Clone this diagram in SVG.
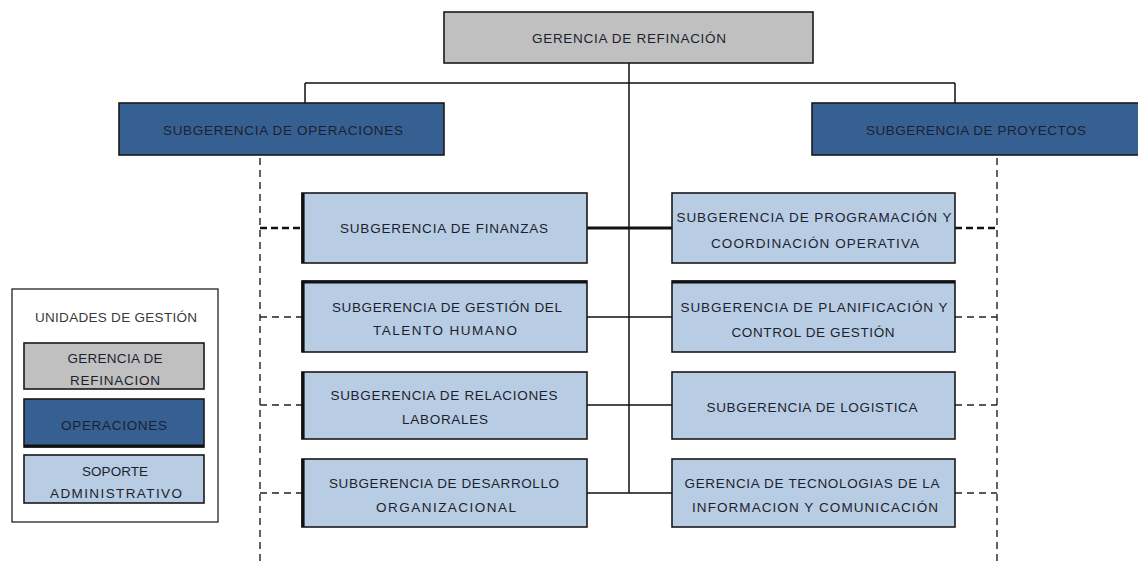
<svg xmlns="http://www.w3.org/2000/svg" width="1138" height="564" viewBox="0 0 1138 564">
<style>
text{font-family:"Liberation Sans",Arial,sans-serif;font-size:13.5px;fill:#1c1f2e;text-anchor:middle;dominant-baseline:central}
.box{stroke:#1a1a1a;stroke-width:1.6}
.gray{fill:#c0c0c0}
.dark{fill:#376092}
.light{fill:#b8cce4}
.ln{stroke:#111;stroke-width:1.5;fill:none}
.thick{stroke:#111;stroke-width:3;fill:none}
.dash{stroke:#222;stroke-width:1.4;stroke-dasharray:7,5;fill:none}
.dashb{stroke:#111;stroke-width:2.6;stroke-dasharray:7,4;fill:none}
.edge{stroke:#111;stroke-width:3.2}
</style>
<rect width="1138" height="564" fill="#fff"/>
<g id="connectors">
<path class="ln" d="M629 63V493M305 83H955M305 83V103M955 83V103"/>
<path class="thick" d="M587 228H672"/>
<path class="ln" d="M587 317H672M587 405H672M587 493H672"/>
<path class="dash" d="M260 158V564M997 158V564"/>
<path class="dashb" d="M260 228H302M955 228H997"/>
<path class="dash" d="M260 317H302M260 405H302M260 493H302M955 317H997M955 405H997M955 493H997"/>
</g>
<g id="gerencia">
<rect class="box gray" x="444" y="12" width="369" height="51"/>
<text x="629" y="38" textLength="194" lengthAdjust="spacing">GERENCIA DE REFINACIÓN</text>
</g>
<g id="operaciones">
<rect class="box dark" x="119" y="103" width="325" height="52"/>
<text x="283" y="130" textLength="240" lengthAdjust="spacing">SUBGERENCIA DE OPERACIONES</text>
</g>
<g id="proyectos">
<rect class="box dark" x="812" y="103" width="335" height="52"/>
<text x="976" y="130" textLength="220" lengthAdjust="spacing">SUBGERENCIA DE PROYECTOS</text>
</g>
<g id="finanzas">
<rect class="box light" x="302" y="193" width="285" height="70"/>
<line class="edge" x1="303" y1="193" x2="303" y2="263"/>
<text x="444" y="228" textLength="208" lengthAdjust="spacing">SUBGERENCIA DE FINANZAS</text>
</g>
<g id="talento">
<rect class="box light" x="302" y="281" width="285" height="71"/>
<line class="edge" x1="303" y1="281" x2="303" y2="352"/>
<line class="edge" x1="302" y1="282" x2="587" y2="282"/>
<text x="447" y="307" textLength="230" lengthAdjust="spacing">SUBGERENCIA DE GESTIÓN DEL</text>
<text x="445" y="330" textLength="144" lengthAdjust="spacing">TALENTO HUMANO</text>
</g>
<g id="relaciones">
<rect class="box light" x="302" y="372" width="285" height="67"/>
<line class="edge" x1="303" y1="372" x2="303" y2="439"/>
<text x="444" y="395" textLength="227" lengthAdjust="spacing">SUBGERENCIA DE RELACIONES</text>
<text x="445" y="419" textLength="86" lengthAdjust="spacing">LABORALES</text>
</g>
<g id="desarrollo">
<rect class="box light" x="302" y="459" width="285" height="68"/>
<line class="edge" x1="303" y1="459" x2="303" y2="527"/>
<text x="444" y="483" textLength="230" lengthAdjust="spacing">SUBGERENCIA DE DESARROLLO</text>
<text x="446" y="507" textLength="140" lengthAdjust="spacing">ORGANIZACIONAL</text>
</g>
<g id="programacion">
<rect class="box light" x="672" y="193" width="283" height="70"/>
<text x="814" y="217" textLength="275" lengthAdjust="spacing">SUBGERENCIA DE PROGRAMACIÓN Y</text>
<text x="815" y="243" textLength="208" lengthAdjust="spacing">COORDINACIÓN OPERATIVA</text>
</g>
<g id="planificacion">
<rect class="box light" x="672" y="281" width="283" height="71"/>
<line class="edge" x1="672" y1="282" x2="955" y2="282"/>
<text x="814" y="307" textLength="267" lengthAdjust="spacing">SUBGERENCIA DE PLANIFICACIÓN Y</text>
<text x="813" y="332" textLength="163" lengthAdjust="spacing">CONTROL DE GESTIÓN</text>
</g>
<g id="logistica">
<rect class="box light" x="672" y="372" width="283" height="67"/>
<text x="812" y="407" textLength="211" lengthAdjust="spacing">SUBGERENCIA DE LOGISTICA</text>
</g>
<g id="tecnologias">
<rect class="box light" x="672" y="459" width="283" height="68"/>
<text x="812" y="483" textLength="255" lengthAdjust="spacing">GERENCIA DE TECNOLOGIAS DE LA</text>
<text x="815" y="507" textLength="246" lengthAdjust="spacing">INFORMACION Y COMUNICACIÓN</text>
</g>
<g id="leyenda">
<rect x="12" y="289" width="206" height="233" fill="#fff" stroke="#222" stroke-width="1.3"/>
<text x="116" y="317" textLength="162" lengthAdjust="spacing" style="fill:#3a3a3a">UNIDADES DE GESTIÓN</text>
<rect class="box gray" x="24" y="343" width="180" height="46"/>
<text x="115" y="358" textLength="95" lengthAdjust="spacing">GERENCIA DE</text>
<text x="115" y="380" textLength="90" lengthAdjust="spacing">REFINACION</text>
<rect class="box dark" x="24" y="399" width="180" height="48"/>
<line class="edge" x1="24" y1="446" x2="204" y2="446"/>
<text x="114" y="425" textLength="106" lengthAdjust="spacing">OPERACIONES</text>
<rect class="box light" x="24" y="455" width="180" height="48"/>
<text x="115" y="471" textLength="66" lengthAdjust="spacing">SOPORTE</text>
<text x="116" y="493" textLength="132" lengthAdjust="spacing">ADMINISTRATIVO</text>
</g>
</svg>
